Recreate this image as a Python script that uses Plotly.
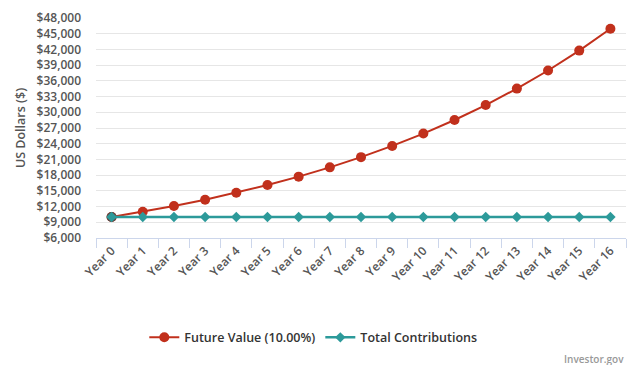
import plotly.graph_objects as go

years = [f"Year {i}" for i in range(17)]
future_value = [10000, 11000, 12100, 13310, 14641, 16105, 17716, 19487, 21436,
                23579, 25937, 28531, 31384, 34523, 37975, 41772, 45950]
contributions = [10000] * 17
y_ticks = list(range(6000, 48001, 3000))
y_labels = [f"${v:,}" for v in y_ticks]

RED = "#c1301c"
TEAL = "#2c9a9a"
FONT = "Open Sans"
TXT = "#555555"

fig = go.Figure()
fig.add_trace(go.Scatter(
    x=years, y=future_value, name="Future Value (10.00%)", mode="lines+markers",
    line=dict(color=RED, width=2), marker=dict(symbol="circle", size=10, color=RED)))
# first point appears darker (overlapping start)
fig.add_trace(go.Scatter(
    x=years[:1], y=future_value[:1], mode="markers", showlegend=False, hoverinfo="skip",
    marker=dict(symbol="circle", size=10, color="#5b4a47")))
fig.add_trace(go.Scatter(
    x=years, y=contributions, name="Total Contributions", mode="lines+markers",
    line=dict(color=TEAL, width=2.5), marker=dict(symbol="diamond", size=8, color=TEAL)))

# page body adds an 8px offset; margins compensate so the plot lands as in the reference
fig.update_layout(
    width=635, height=365,
    margin=dict(l=88, r=17, t=10, b=135),
    paper_bgcolor="white", plot_bgcolor="white",
    font=dict(family=FONT, color=TXT, size=12),
    showlegend=True,
    legend=dict(orientation="h", x=0.41, xanchor="center",
                y=-0.385, yanchor="top",
                font=dict(size=12.5, color="#333333", weight=600), itemwidth=30),
    xaxis=dict(
        type="category", range=[-0.5, 16.5], tickangle=-45, tickson="boundaries",
        ticks="outside", ticklen=9, tickcolor="#ccd6eb", showline=True,
        linecolor="#ccd6eb", linewidth=1, showgrid=False, zeroline=False,
        automargin=False,
        tickfont=dict(size=12, color=TXT, weight=600), fixedrange=True),
    yaxis=dict(
        range=[6000, 48000], tickvals=y_ticks, ticktext=y_labels,
        showgrid=True, gridcolor="#e6e6e6", gridwidth=1, zeroline=False,
        showline=False, ticks="", ticklabelstandoff=14, automargin=False,
        title=dict(text="US Dollars ($)", font=dict(size=12.5, color=TXT, weight=600), standoff=8),
        tickfont=dict(size=12, color=TXT, weight=600), fixedrange=True),
    annotations=[dict(text="Investor.gov", xref="paper", yref="paper", x=1.0, y=-0.51,
                      xanchor="right", yanchor="top", showarrow=False,
                      font=dict(size=10, color="#999999", weight=600))],
)

fig.write_html("out.html")
